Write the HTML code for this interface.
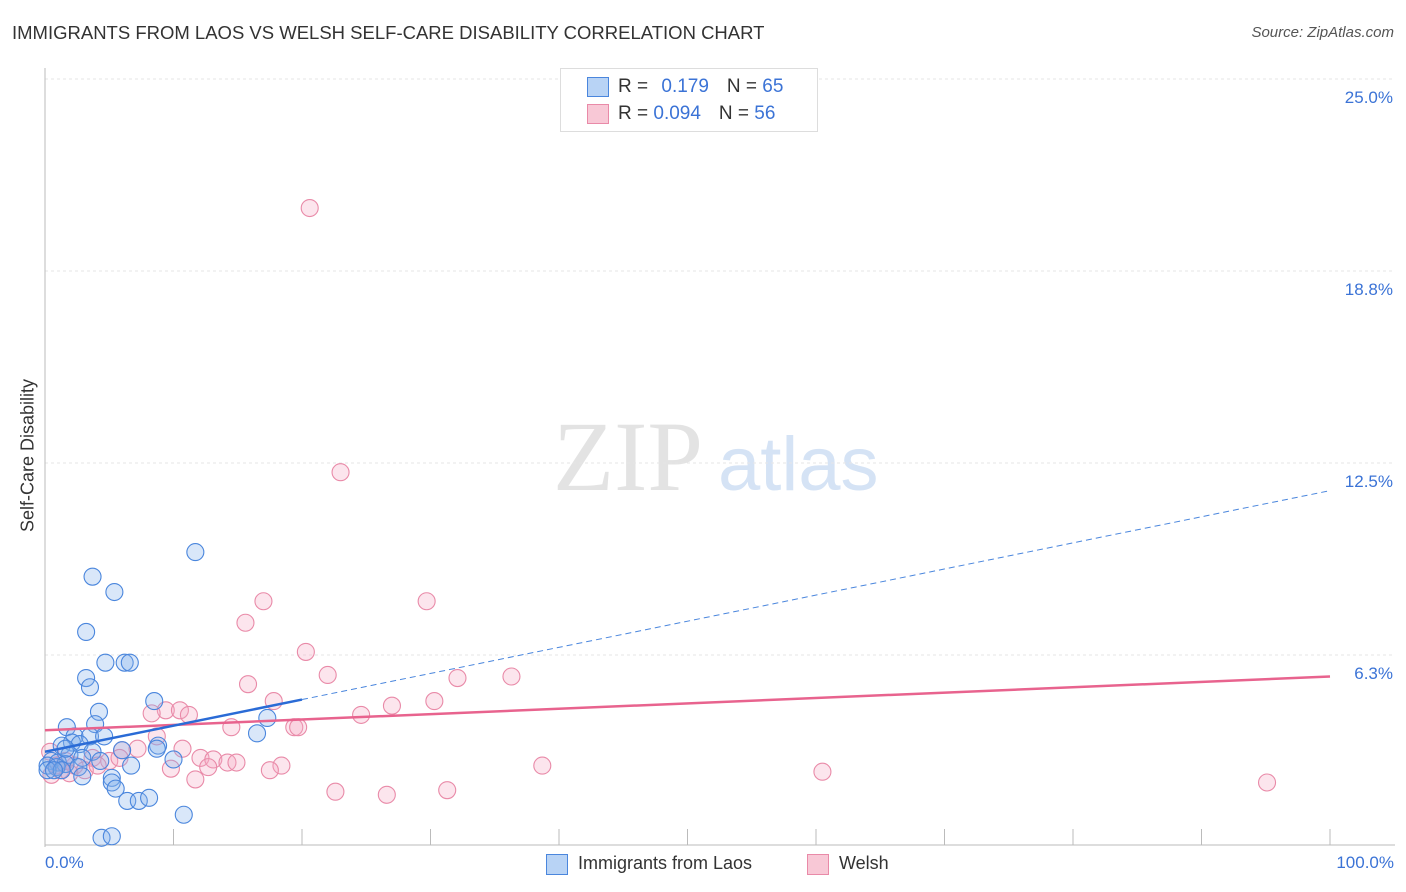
<!DOCTYPE html>
<html><head><meta charset="utf-8"><style>
body{margin:0;background:#fff;font-family:"Liberation Sans",sans-serif;}
#wrap{position:relative;width:1406px;height:892px;overflow:hidden}
.t{position:absolute;white-space:nowrap}
</style></head><body><div id="wrap">
<div class="t" style="left:12px;top:22px;font-size:18.5px;color:#333">IMMIGRANTS FROM LAOS VS WELSH SELF-CARE DISABILITY CORRELATION CHART</div>
<div class="t" style="right:12px;top:24px;font-size:15px;color:#555;font-style:italic">Source: ZipAtlas.com</div>
<svg id="plot" width="1406" height="892" style="position:absolute;left:0;top:0"></svg>
</div>
<script>
const yTicks=[6.25,12.5,18.75,25];
const yTickLabels=["6.3%","12.5%","18.8%","25.0%"];
const laosX=[11.7,3.7,5.4,3.2,4.7,6.2,6.6,3.2,3.5,8.5,4.2,17.3,3.9,1.7,16.5,2.3,3.5,4.6,2.1,1.3,2.7,8.8,8.7,6.0,3.7,1.9,2.9,0.5,1.0,1.6,0.2,0.9,2.6,6.7,10,0.2,1.3,2.9,5.2,5.2,5.5,6.4,7.3,8.1,10.8,4.4,5.2,4.3,1.6,0.7];
const laosY=[9.6,8.8,8.3,7.0,6.0,6.0,6.0,5.5,5.2,4.75,4.4,4.2,4.0,3.9,3.7,3.6,3.6,3.6,3.4,3.3,3.35,3.3,3.2,3.15,3.1,3.0,2.9,2.8,2.75,2.7,2.65,2.6,2.6,2.65,2.85,2.5,2.5,2.3,2.25,2.1,1.9,1.5,1.5,1.6,1.05,0.3,0.35,2.8,3.2,2.5];
const welshX=[20.6,23,17,29.7,15.6,20.3,22,32.1,36.3,15.8,17.8,30.3,27,9.4,10.5,11.2,8.3,24.6,19.4,19.7,14.5,8.7,10.7,6,7.2,12.1,13.1,14.2,14.9,12.7,18.4,17.5,9.8,11.7,38.7,60.5,95.1,22.6,26.6,31.3,3.7,5,5.8,0.5,1.2,2.3,3.1,1.6,0.4,4.1,1.9,0.9];
const welshY=[20.8,12.2,8.0,8.0,7.3,6.35,5.6,5.5,5.55,5.3,4.75,4.75,4.6,4.45,4.45,4.3,4.35,4.3,3.9,3.9,3.9,3.6,3.2,3.15,3.2,2.9,2.85,2.75,2.75,2.6,2.65,2.5,2.55,2.2,2.65,2.45,2.1,1.8,1.7,1.85,2.9,2.8,2.9,2.35,2.5,2.65,2.5,2.8,3.1,2.65,2.4,2.65];
const laosTrend=[3.1,11.6];
const welshTrend=[3.8,5.55];
const X0=45,X1=1330,Y0=847,Y25=79;
const sx=v=>X0+(X1-X0)*v/100;
const sy=v=>Y0-(Y0-Y25)*v/25;
const svg=document.getElementById('plot');
const NS='http://www.w3.org/2000/svg';
function mk(tag,attrs,parent){const e=document.createElementNS(NS,tag);for(const k in attrs)e.setAttribute(k,attrs[k]);(parent||svg).appendChild(e);return e;}
let wm=mk('text',{x:553,y:490,'font-size':100,'font-family':'Liberation Serif,serif',fill:'#e3e3e3'});wm.textContent='ZIP';


let wm2=mk('text',{x:718,y:490,'font-size':76,'font-family':'Liberation Sans,sans-serif',fill:'#d5e3f5'});wm2.textContent='atlas';


yTicks.forEach((t,i)=>{
 const g=mk('line',{x1:X0,x2:1395,y1:sy(t),y2:sy(t),stroke:'#e6e6e6','stroke-dasharray':'3,3'});
 
 
 const l=mk('text',{x:1393,y:sy(t)+24,'text-anchor':'end','font-size':17,fill:'#3b73d6'});
 l.textContent=yTickLabels[i];
 
 
});
let ax=mk('line',{x1:X0,x2:X0,y1:68,y2:Y0,stroke:'#bbb'});


let ax2=mk('line',{x1:X0,x2:1395,y1:Y0-2,y2:Y0-2,stroke:'#bbb'});


for(let i=1;i<=10;i++){const tk=mk('line',{x1:sx(i*10),x2:sx(i*10),y1:Y0-2,y2:Y0-18,stroke:'#bbb'});
 
 }
function dots(xs,ys,fill,stroke,name){xs.forEach((x,i)=>{const c=mk('circle',{cx:sx(x),cy:sy(ys[i]),r:8.5,fill:fill,stroke:stroke,'stroke-width':1.1});
 
 });}
dots(welshX,welshY,'rgba(246,170,195,0.3)','#e98aa8','welsh-point');
dots(laosX,laosY,'rgba(130,175,235,0.3)','#4a86dd','laos-point');
let wt=mk('line',{x1:sx(0),x2:sx(100),y1:sy(welshTrend[0]),y2:sy(welshTrend[1]),stroke:'#e8638e','stroke-width':2.5});


const ly=x=>laosTrend[0]+(laosTrend[1]-laosTrend[0])*x/100;
let lt=mk('line',{x1:sx(0),x2:sx(20),y1:sy(ly(0)),y2:sy(ly(20)),stroke:'#2a6bd6','stroke-width':2.5});


let ld=mk('line',{x1:sx(20),x2:sx(100),y1:sy(ly(20)),y2:sy(ly(100)),stroke:'#4a86dd','stroke-width':1,'stroke-dasharray':'6,4'});


</script>
<div class="t" style="left:-52px;top:445px;font-size:18px;color:#333;transform:rotate(-90deg);width:160px;text-align:center">Self-Care Disability</div>
<div class="t" style="left:45px;top:853px;font-size:17px;color:#3b73d6">0.0%</div>
<div class="t" style="right:12px;top:853px;font-size:17px;color:#3b73d6">100.0%</div>
<div style="position:absolute;left:560px;top:68px;width:256px;height:62px;border:1px solid #ddd;background:#fff;font-size:19px;color:#333">
 <div style="position:absolute;left:26px;top:8px;width:20px;height:18px;background:#b8d3f5;border:1px solid #4a86dd"></div>
 <div class="t" style="left:57px;top:7px"><span>R = </span><span style="color:#3b73d6;margin-left:8px">0.179</span><span style="margin-left:18px">N = </span><span style="color:#3b73d6">65</span></div>
 <div style="position:absolute;left:26px;top:35px;width:20px;height:18px;background:#f8c8d6;border:1px solid #e98aa8"></div>
 <div class="t" style="left:57px;top:34px"><span>R = </span><span style="color:#3b73d6">0.094</span><span style="margin-left:18px">N = </span><span style="color:#3b73d6">56</span></div>
</div>
<div style="position:absolute;left:546px;top:853px;font-size:18px;color:#333">
 <div style="position:absolute;left:0;top:1px;width:20px;height:19px;background:#b8d3f5;border:1px solid #4a86dd"></div>
 <div class="t" style="left:32px;top:0">Immigrants from Laos</div></div>
<div style="position:absolute;left:807px;top:853px;font-size:18px;color:#333">
 <div style="position:absolute;left:0;top:1px;width:20px;height:19px;background:#f8c8d6;border:1px solid #e98aa8"></div>
 <div class="t" style="left:32px;top:0">Welsh</div></div>
</body></html>
